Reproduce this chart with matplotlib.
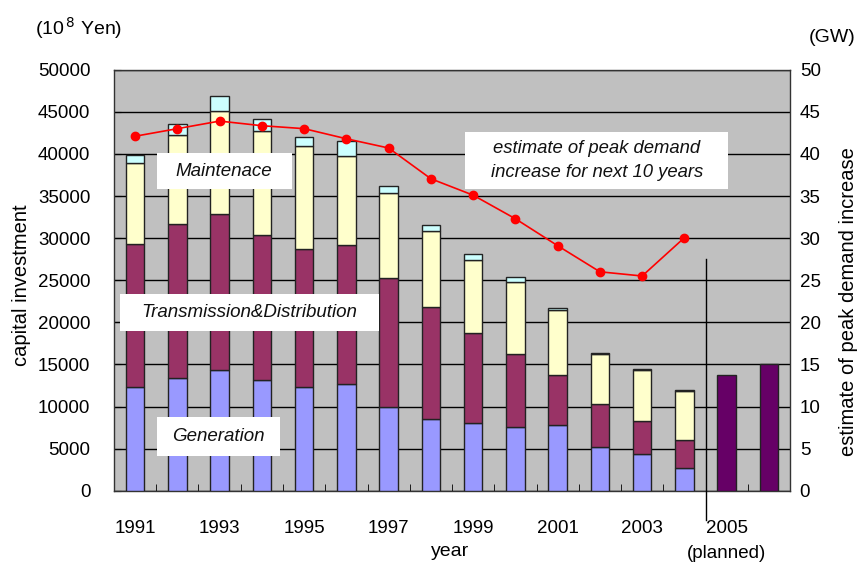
import matplotlib
matplotlib.use("Agg")
import matplotlib.pyplot as plt
import numpy as np
from matplotlib.patches import Rectangle

plt.rcParams['font.family'] = ['Liberation Sans', 'DejaVu Sans']

years = ["1991", "1992", "1993", "1994", "1995", "1996", "1997", "1998",
         "1999", "2000", "2001", "2002", "2003", "2004", "2005", "2006"]
tick_labels = ["1991", "1993", "1995", "1997", "1999", "2001", "2003", "2005\n(planned)"]

# cumulative tops (10^8 Yen), 1991-2004
generation = [12350, 13400, 14300, 13100, 12350, 12700, 9900, 8500, 8000, 7600, 7800, 5200, 4300, 2700]
trans_top = [29350, 31700, 32900, 30400, 28700, 29200, 25300, 21850, 18700, 16200, 13800, 10300, 8300, 6000]
maint_top = [38950, 42300, 45100, 42700, 40900, 39750, 35300, 30800, 27400, 24750, 21500, 16200, 14300, 11900]
total_top = [39900, 43600, 46900, 44100, 42000, 41500, 36200, 31500, 28150, 25350, 21700, 16400, 14500, 12000]
planned = [13800, 15000]  # 2005, 2006

peak_demand = [42.1, 43.0, 43.9, 43.35, 43.0, 41.8, 40.7, 37.05, 35.1, 32.3, 29.1, 26.0, 25.5, 30.05]

gen = np.array(generation)
trans = np.array(trans_top) - gen
maint = np.array(maint_top) - np.array(trans_top)
other = np.array(total_top) - np.array(maint_top)

fig = plt.figure(figsize=(8.59, 5.65), dpi=100)
ax = fig.add_axes([0.1327, 0.1315, 0.7870, 0.7451])
ax.set_facecolor('#C0C0C0')

n_hist = len(generation)
x = np.arange(n_hist)
xp = np.arange(n_hist, n_hist + len(planned))
w = 0.44
ek = dict(edgecolor='#222222', linewidth=1.0, zorder=3)
ax.bar(x, gen, w, color='#9999FF', **ek)
ax.bar(x, trans, w, bottom=gen, color='#993366', **ek)
ax.bar(x, maint, w, bottom=np.array(trans_top), color='#FFFFCC', **ek)
ax.bar(x, other, w, bottom=np.array(maint_top), color='#CCFFFF', **ek)
ax.bar(xp, planned, w, color='#660066', **ek)

ax.set_xlim(-0.5, len(years) - 0.5)
ax.set_ylim(0, 50000)
ax.set_yticks(np.arange(0, 50001, 5000))
ax.yaxis.grid(True, color='black', linewidth=1.0, zorder=1)
ax.set_axisbelow(True)
ax.tick_params(axis='y', direction='in', length=5, labelsize=13.5, pad=17)
ax.set_xticks(np.arange(0, len(years), 2))
ax.set_xticklabels(tick_labels, fontsize=13.5, va='top', linespacing=1.6)
ax.set_xticks(np.arange(0.5, len(years) - 1, 1), minor=True)
ax.tick_params(axis='x', which='major', length=0, pad=21)
ax.tick_params(axis='x', which='minor', direction='in', length=5)
for s in ax.spines.values():
    s.set_linewidth(1.0)
    s.set_color('#333333')

# separator between actual and planned
ax.plot([n_hist - 0.5, n_hist - 0.5], [27500, -3500], color='black', lw=1.0,
        clip_on=False, zorder=4)

ax2 = ax.twinx()
ax2.set_ylim(0, 50)
ax2.set_yticks(np.arange(0, 51, 5))
ax2.tick_params(axis='y', length=0, labelsize=13.5, pad=7)
ax2.plot(x, peak_demand, color='#FF0000', lw=1.2, marker='o', markersize=6, zorder=5)
for s in ax2.spines.values():
    s.set_visible(False)

# label boxes (axes coordinates)
def label_box(cx, cy, wpx, hpx, txt, fs=13.5):
    wf = wpx / 676.0
    hf = hpx / 421.0
    ax2.add_patch(Rectangle((cx - wf / 2, cy - hf / 2), wf, hf, transform=ax2.transAxes,
                            facecolor='white', edgecolor='none', zorder=6))
    ax2.text(cx, cy, txt, transform=ax2.transAxes, ha='center', va='center',
             fontsize=fs, style='italic', zorder=7, linespacing=1.5, color='#111111')

label_box(0.163, 0.759, 135, 36, "Maintenace")
label_box(0.2007, 0.4235, 259, 37, "Transmission&Distribution")
label_box(0.1543, 0.1292, 123, 39, "Generation")
label_box(0.714, 0.784, 263, 57, "estimate of peak demand\nincrease for next 10 years", fs=13.3)

fig.text(35 / 859, 1 - 28 / 565, "(10$^{\\,8}$ Yen)", fontsize=14, ha='left', va='center')
fig.text(855 / 859, 1 - 38 / 565, "(GW)", fontsize=14, ha='right', va='center')
fig.text(22 / 859, 1 - 285 / 565, "capital investment", fontsize=14.5, rotation=90,
         ha='center', va='center')
fig.text(849 / 859, 1 - 302 / 565, "estimate of peak demand increase", fontsize=14.5,
         rotation=90, ha='center', va='center')
fig.text(450 / 859, 1 - 552 / 565, "year", fontsize=14, ha='center', va='center')

fig.savefig("out.png", dpi=100)
